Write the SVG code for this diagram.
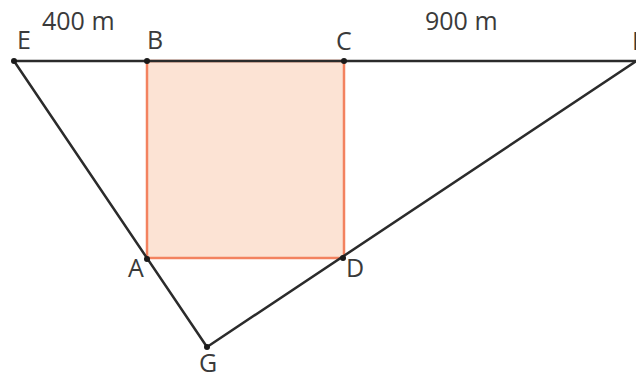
<svg xmlns="http://www.w3.org/2000/svg" width="636" height="376" viewBox="0 0 636 376">
<style>
.ln{stroke:#2b2b2b;stroke-width:2.5;fill:none;stroke-linecap:round}
.pt{fill:#1a1a1a}
.lb{font-family:"Open Sans","Noto Sans",sans-serif;font-size:25px;fill:#3a3a3a}
</style>
<rect width="636" height="376" fill="#ffffff"/>
<g id="square">
<rect x="147" y="61" width="197" height="197" fill="#fce3d4" stroke="#f3825f" stroke-width="2.5"/>
</g>
<g id="connectors">
<line class="ln" x1="14" y1="61" x2="636" y2="61"/>
<line class="ln" x1="14" y1="61" x2="207" y2="347"/>
<line class="ln" x1="207" y1="347" x2="638" y2="60"/>
</g>
<g id="E"><circle class="pt" cx="14" cy="61" r="3"/><text class="lb" x="17" y="49">E</text></g>
<g id="B"><circle class="pt" cx="147" cy="61" r="3"/><text class="lb" x="147" y="49">B</text></g>
<g id="C"><circle class="pt" cx="344" cy="61" r="3"/><text class="lb" x="336" y="50">C</text></g>
<g id="F"><text class="lb" x="632" y="50">F</text></g>
<g id="A"><circle class="pt" cx="147" cy="259" r="3"/><text class="lb" x="128" y="277">A</text></g>
<g id="D"><circle class="pt" cx="343" cy="258" r="3"/><text class="lb" x="346" y="277">D</text></g>
<g id="G"><circle class="pt" cx="207" cy="347" r="3"/><text class="lb" x="199" y="372">G</text></g>
<g id="labels">
<text class="lb" x="42" y="30">400 m</text>
<text class="lb" x="425" y="30">900 m</text>
</g>
</svg>
